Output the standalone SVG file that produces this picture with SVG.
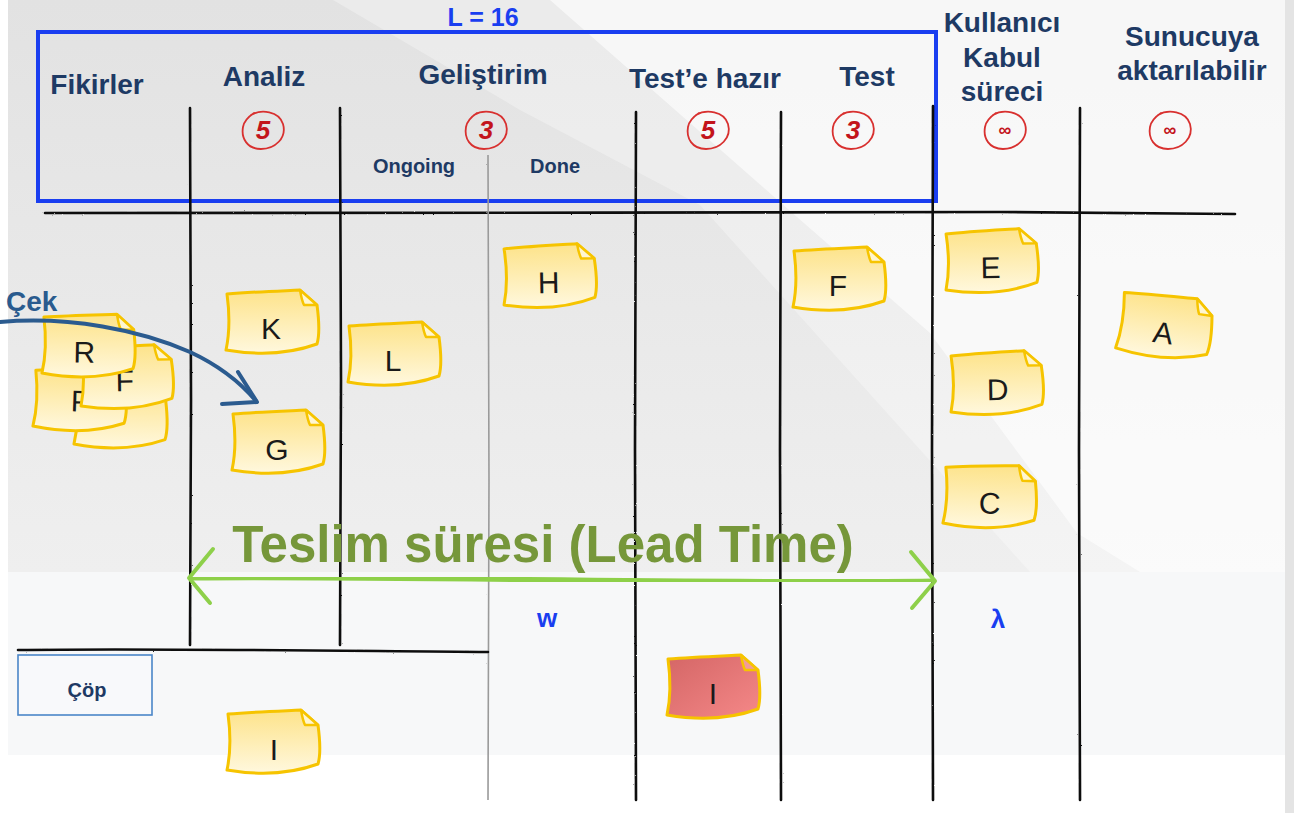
<svg xmlns="http://www.w3.org/2000/svg" xmlns:xlink="http://www.w3.org/1999/xlink" width="1294" height="813" viewBox="0 0 1294 813">
  <style>
    .hdr { font-family: "Liberation Sans", Arial, sans-serif; font-weight: bold; font-size: 28px; fill: #1e3a64; text-anchor: middle; }
    .sub { font-family: "Liberation Sans", Arial, sans-serif; font-weight: bold; font-size: 20px; fill: #1e3a64; text-anchor: middle; }
    .wip { font-family: "Liberation Sans", Arial, sans-serif; font-weight: bold; font-style: italic; font-size: 26px; fill: #c3141b; text-anchor: middle; }
    .inf { font-family: "Liberation Sans", Arial, sans-serif; font-weight: bold; font-size: 18px; fill: #c3141b; text-anchor: middle; }
    .ring { fill: none; stroke: #d8302f; stroke-width: 1.8; stroke-linecap: round; }
    .col { stroke: #111; stroke-width: 2.6; fill: none; stroke-linecap: round; }
    .note { fill: url(#noteYellow); stroke: #f6c400; stroke-width: 3; stroke-linejoin: round; }
    .noteRed { fill: url(#noteRed); stroke: #f6c400; stroke-width: 3; stroke-linejoin: round; }
    .fold { fill: #fff6d0; stroke: #f6c400; stroke-width: 2.5; stroke-linejoin: round; }
    .foldRed { fill: #f29a9a; stroke: #f6c400; stroke-width: 2.5; stroke-linejoin: round; }
    .lbl { font-family: "Liberation Sans", Arial, sans-serif; font-size: 30px; fill: #1a1a1a; text-anchor: middle; }
    .blue { font-family: "Liberation Sans", Arial, sans-serif; font-weight: bold; fill: #1a3ef0; text-anchor: middle; }
  </style>
  <defs>
    <linearGradient id="bgGrad" x1="0" y1="0" x2="0" y2="1">
      <stop offset="0" stop-color="#e2e2e2"/>
      <stop offset="1" stop-color="#efefef"/>
    </linearGradient>
    <linearGradient id="noteYellow" x1="0" y1="0" x2="0" y2="1">
      <stop offset="0" stop-color="#fde38a"/>
      <stop offset="1" stop-color="#fff8de"/>
    </linearGradient>
    <linearGradient id="noteRed" x1="0" y1="0" x2="1" y2="1">
      <stop offset="0" stop-color="#d46666"/>
      <stop offset="1" stop-color="#f58888"/>
    </linearGradient>
    <filter id="rough" x="-5%" y="-5%" width="110%" height="110%">
      <feTurbulence type="fractalNoise" baseFrequency="0.9" numOctaves="1" seed="3"/>
      <feDisplacementMap in="SourceGraphic" scale="2"/>
    </filter>
    <!-- sticky note outline with a folded top-right corner -->
    <path id="notePath" d="M4,4 C28,2 56,1 77,0 L94,15 C96,30 97,44 94,54 C72,62 44,67 3,60 C6,46 7,26 4,4 Z"/>
    <path id="foldPath" d="M77,0 C78,6 79,11 81,15 C86,15 90,15 94,15 Z"/>
    <!-- hand-drawn WIP limit ring -->
    <path id="ringPath" d="M-12,-15 C-2,-21 16,-19 20,-6 C24,8 12,19 -2,19 C-16,19 -22,8 -20,-3 C-19,-9 -15,-13 -9,-17"/>
  </defs>

  <!-- board background -->
  <rect width="1294" height="813" fill="#ffffff"/>
  <rect x="8" y="0" width="1277" height="572" fill="url(#bgGrad)"/>
  <rect x="8" y="572" width="1277" height="183" fill="#f7f8f9"/>
  <polygon points="333,0 1285,0 1285,572 1030,572 700,205 520,110" fill="#ffffff" opacity="0.3"/>
  <polygon points="550,0 1285,0 1285,572 1140,572 1077,533 930,333 797,217" fill="#ffffff" opacity="0.6"/>
  <rect x="1285" y="0" width="9" height="813" fill="#e4e4e4"/>

  <!-- WIP scope box -->
  <g id="scope">
    <rect x="38" y="32" width="898" height="169" fill="none" stroke="#1a3ef0" stroke-width="4"/>
    <text class="blue" x="483" y="26" font-size="25">L = 16</text>
  </g>

  <!-- board grid -->
  <g id="grid" filter="url(#rough)">
    <path class="col" d="M45,213 C300,211 700,214 1000,212 C1120,213 1190,214 1235,214" stroke-width="2.4"/>
    <path class="col" d="M190,108 L191,400 L190,645"/>
    <path class="col" d="M340,108 L341,380 L340,645"/>
    <path d="M488,155 L489,480 L488,800" stroke="#9a9a9a" stroke-width="1.6" fill="none"/>
    <path class="col" d="M636,112 L635,450 L636,800"/>
    <path class="col" d="M781,112 L780,450 L781,800"/>
    <path class="col" d="M933,106 L932,450 L933,800"/>
    <path class="col" d="M1080,108 L1079,450 L1080,800"/>
    <path class="col" d="M18,650 C150,648 350,651 488,652" stroke-width="2.4"/>
  </g>

  <!-- column headers -->
  <g id="headers">
    <text class="hdr" x="97" y="94">Fikirler</text>
    <text class="hdr" x="264" y="86">Analiz</text>
    <text class="hdr" x="483" y="84">Geliştirim</text>
    <text class="hdr" x="705" y="88">Test’e hazır</text>
    <text class="hdr" x="867" y="86">Test</text>
    <text class="hdr" x="1002" y="32">Kullanıcı</text>
    <text class="hdr" x="1002" y="67">Kabul</text>
    <text class="hdr" x="1002" y="101">süreci</text>
    <text class="hdr" x="1192" y="46">Sunucuya</text>
    <text class="hdr" x="1192" y="80">aktarılabilir</text>
    <text class="sub" x="414" y="173">Ongoing</text>
    <text class="sub" x="555" y="173">Done</text>
  </g>

  <!-- WIP limits -->
  <g id="limits">
    <use href="#ringPath" class="ring" transform="translate(263,130)"/>
    <text class="wip" x="263" y="139">5</text>
    <use href="#ringPath" class="ring" transform="translate(486,130)"/>
    <text class="wip" x="486" y="139">3</text>
    <use href="#ringPath" class="ring" transform="translate(708,130)"/>
    <text class="wip" x="708" y="139">5</text>
    <use href="#ringPath" class="ring" transform="translate(853,130)"/>
    <text class="wip" x="853" y="139">3</text>
    <use href="#ringPath" class="ring" transform="translate(1005,130)"/>
    <text class="inf" x="1005" y="136">∞</text>
    <use href="#ringPath" class="ring" transform="translate(1170,130)"/>
    <text class="inf" x="1170" y="136">∞</text>
  </g>

  <!-- trash area -->
  <g id="trash">
    <rect x="18" y="655" width="134" height="60" fill="#f8f9fb" stroke="#4a86c8" stroke-width="1.6"/>
    <text class="sub" x="87" y="697">Çöp</text>
  </g>

  <!-- sticky notes -->
  <g id="note-stack-4" transform="translate(72,384) rotate(1)">
    <use href="#notePath" class="note"/><use href="#foldPath" class="fold"/>
  </g>
  <g id="note-P" transform="translate(32,366) rotate(2)">
    <use href="#notePath" class="note"/><use href="#foldPath" class="fold"/>
    <text class="lbl" x="50" y="44">P</text>
  </g>
  <g id="note-F-stack" transform="translate(77,346) rotate(-1)">
    <use href="#notePath" class="note"/><use href="#foldPath" class="fold"/>
    <text class="lbl" x="47" y="46">F</text>
  </g>
  <g id="note-R" transform="translate(40,313) rotate(1)">
    <use href="#notePath" class="note"/><use href="#foldPath" class="fold"/>
    <text class="lbl" x="45" y="49">R</text>
  </g>
  <g id="note-K" transform="translate(223,290)">
    <use href="#notePath" class="note"/><use href="#foldPath" class="fold"/>
    <text class="lbl" x="48" y="49">K</text>
  </g>
  <g id="note-G" transform="translate(229,410)">
    <use href="#notePath" class="note"/><use href="#foldPath" class="fold"/>
    <text class="lbl" x="48" y="50">G</text>
  </g>
  <g id="note-L" transform="translate(345,322)">
    <use href="#notePath" class="note"/><use href="#foldPath" class="fold"/>
    <text class="lbl" x="48" y="49">L</text>
  </g>
  <g id="note-H" transform="translate(500,245) rotate(-1)">
    <use href="#notePath" class="note"/><use href="#foldPath" class="fold"/>
    <text class="lbl" x="48" y="49">H</text>
  </g>
  <g id="note-F" transform="translate(790,247)">
    <use href="#notePath" class="note"/><use href="#foldPath" class="fold"/>
    <text class="lbl" x="48" y="49">F</text>
  </g>
  <g id="note-E" transform="translate(942,230) rotate(-1)">
    <use href="#notePath" class="note"/><use href="#foldPath" class="fold"/>
    <text class="lbl" x="48" y="49">E</text>
  </g>
  <g id="note-D" transform="translate(947,352) rotate(-1)">
    <use href="#notePath" class="note"/><use href="#foldPath" class="fold"/>
    <text class="lbl" x="50" y="49">D</text>
  </g>
  <g id="note-C" transform="translate(942,463) rotate(2)">
    <use href="#notePath" class="note"/><use href="#foldPath" class="fold"/>
    <text class="lbl" x="49" y="49">C</text>
  </g>
  <g id="note-A" transform="translate(1121,288) rotate(8)">
    <use href="#notePath" class="note"/><use href="#foldPath" class="fold"/>
    <text class="lbl" x="48" y="49">A</text>
  </g>
  <g id="note-I-trash" transform="translate(224,710)">
    <use href="#notePath" class="note"/><use href="#foldPath" class="fold"/>
    <text class="lbl" x="50" y="50">I</text>
  </g>
  <g id="note-I-blocked" transform="translate(664,655)">
    <use href="#notePath" class="noteRed"/><use href="#foldPath" class="foldRed"/>
    <text class="lbl" x="49" y="49">I</text>
  </g>

  <!-- connectors and annotations -->
  <g id="connectors">
    <g id="pull">
      <text x="6" y="311" font-family="Liberation Sans, Arial, sans-serif" font-weight="bold" font-size="28" fill="#2a5b8e">Çek</text>
      <path d="M0,322 C70,316 140,330 190,352 C220,366 240,382 256,401" fill="none" stroke="#2b5b8f" stroke-width="4" stroke-linecap="round"/>
      <polyline points="238,372 257,402 222,404" fill="none" stroke="#2b5b8f" stroke-width="4" stroke-linecap="round" stroke-linejoin="round"/>
    </g>
    <g id="lead-time">
      <text x="543" y="562" font-family="Liberation Sans, Arial, sans-serif" font-weight="bold" font-size="51" fill="#76973a" text-anchor="middle">Teslim süresi (Lead Time)</text>
      <path d="M191,578 C400,576 700,584 933,581" fill="none" stroke="#8ed04a" stroke-width="5" stroke-linecap="round" filter="url(#rough)"/>
      <polyline points="213,549 189,578 210,603" fill="none" stroke="#8ed04a" stroke-width="4" stroke-linecap="round" stroke-linejoin="round"/>
      <polyline points="911,552 935,581 912,608" fill="none" stroke="#8ed04a" stroke-width="4" stroke-linecap="round" stroke-linejoin="round"/>
    </g>
    <text class="blue" x="547" y="627" font-size="26">w</text>
    <text class="blue" x="998" y="628" font-size="26">λ</text>
  </g>
</svg>
